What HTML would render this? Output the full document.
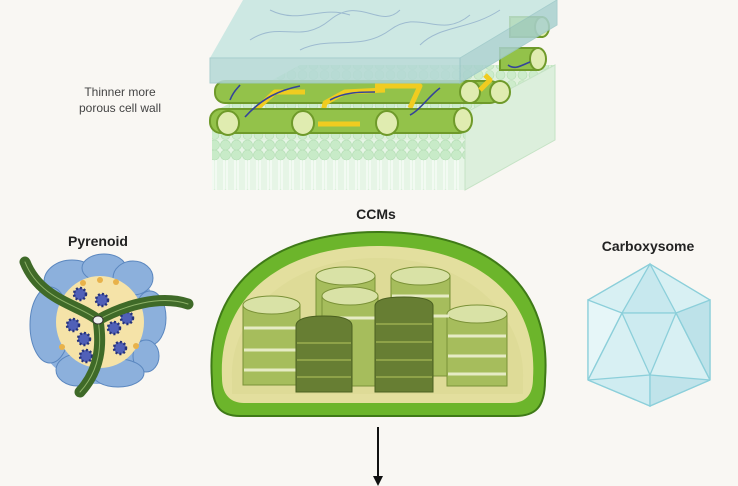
<!DOCTYPE html>
<html><head><meta charset="utf-8"><style>
html,body{margin:0;padding:0;background:#f9f7f3;}
svg{display:block}
</style></head><body>
<svg width="738" height="486" viewBox="0 0 738 486" xmlns="http://www.w3.org/2000/svg">
<rect width="738" height="486" fill="#f9f7f3"/>
<defs>
<pattern id="mem" width="11" height="50" patternUnits="userSpaceOnUse">
<rect width="11" height="50" fill="#e6f5e6"/>
<circle cx="5.5" cy="5" r="5" fill="#c8ebc8" stroke="#b0dcb0" stroke-width="0.6"/>
<circle cx="5.5" cy="45" r="5" fill="#c8ebc8" stroke="#b0dcb0" stroke-width="0.6"/>
<line x1="4" y1="10" x2="4" y2="40" stroke="#fff" stroke-width="1"/>
<line x1="7" y1="10" x2="7" y2="40" stroke="#fff" stroke-width="1"/>
</pattern>
<pattern id="memtop" width="11" height="10" patternUnits="userSpaceOnUse">
<rect width="11" height="10" fill="#dff1dc"/>
<circle cx="5.5" cy="5" r="4.5" fill="#cdeccb" stroke="#b5ddb2" stroke-width="0.6"/>
</pattern>
</defs>
<!-- membrane -->
<polygon points="212,113 300,65 555,65 555,140 465,190 212,190" fill="#e4f3e4"/>
<polygon points="212,113 300,65 555,65 465,113" fill="url(#memtop)"/>
<rect x="212" y="140" width="253" height="50" fill="url(#mem)"/>
<polygon points="465,113 555,65 555,140 465,190" fill="#dcefdc" stroke="#c5e3c5"/>
<rect x="212" y="113" width="253" height="27" fill="url(#memtop)"/>
<!-- back cylinders -->
<g stroke="#6f9a2a" stroke-width="2" fill="#93c24a">
<rect x="510" y="17" width="32" height="20"/><ellipse cx="542" cy="27" rx="7" ry="10" fill="#e0ecb0"/>
<rect x="500" y="48" width="38" height="22"/><ellipse cx="538" cy="59" rx="8" ry="11" fill="#e0ecb0"/>
<rect x="215" y="81" width="285" height="22" rx="10"/>
<ellipse cx="470" cy="92" rx="10" ry="11" fill="#e0ecb0"/>
<ellipse cx="500" cy="92" rx="10" ry="11" fill="#e0ecb0"/>
</g>
<g stroke="#f0cc20" stroke-width="5" fill="none" stroke-linejoin="round">
<path d="M250,115 L275,92 L305,92"/>
<path d="M320,125 L325,103 L345,92 L385,90"/>
<path d="M375,86 L420,86 L410,108"/>
<path d="M485,75 L490,80 L480,90"/>
</g>
<!-- front cylinders -->
<g stroke="#6f9a2a" stroke-width="2" fill="#93c24a">
<rect x="210" y="109" width="260" height="24" rx="11"/>
<ellipse cx="228" cy="123" rx="11" ry="12" fill="#e0ecb0"/>
<ellipse cx="303" cy="123" rx="11" ry="12" fill="#e0ecb0"/>
<ellipse cx="387" cy="123" rx="11" ry="12" fill="#e0ecb0"/>
<ellipse cx="463" cy="120" rx="9" ry="12" fill="#e0ecb0"/>
</g>
<g stroke="#f0cc20" stroke-width="5" fill="none">
<path d="M318,124 L360,124"/>
</g>
<g stroke="#34449a" stroke-width="1.6" fill="none">
<path d="M245,117 C262,98 280,90 300,86"/>
<path d="M330,100 C345,92 360,92 375,92"/>
<path d="M410,115 C420,110 430,95 440,88"/>
<path d="M230,100 C234,90 238,88 240,85"/>
<path d="M508,65 C515,70 520,66 530,62"/>
</g>
<!-- glass slab -->
<polygon points="243,0 557,0 460,58 210,58" fill="#c2e3df" opacity="0.8"/>
<polygon points="210,58 460,58 460,83 210,83" fill="#b4d9d6" opacity="0.85" stroke="#9cc8c8"/>
<polygon points="460,58 557,0 557,25 460,83" fill="#a9d1cf" opacity="0.85" stroke="#9cc8c8"/>
<g stroke="#8aa8c8" stroke-width="1" fill="none" opacity="0.7">
<path d="M250,40 C280,20 300,45 330,20 S380,30 400,10"/>
<path d="M300,50 C330,35 360,52 390,30 S440,40 470,15"/>
<path d="M420,45 C440,25 470,30 500,10"/>
<path d="M270,10 C300,25 320,5 350,15"/>
</g>
<text x="120" y="96" font-family="Liberation Sans, sans-serif" font-size="12" fill="#444" text-anchor="middle">Thinner more</text>
<text x="120" y="112" font-family="Liberation Sans, sans-serif" font-size="12" fill="#444" text-anchor="middle">porous cell wall</text>
<text x="376" y="219" font-family="Liberation Sans, sans-serif" font-size="14" font-weight="bold" fill="#222" text-anchor="middle">CCMs</text>
<text x="98" y="246" font-family="Liberation Sans, sans-serif" font-size="14" font-weight="bold" fill="#222" text-anchor="middle">Pyrenoid</text>
<text x="648" y="251" font-family="Liberation Sans, sans-serif" font-size="14" font-weight="bold" fill="#222" text-anchor="middle">Carboxysome</text>
<!-- chloroplast -->
<path d="M212,380 C205,290 265,232 378,232 C495,232 552,290 545,380 C545,408 535,416 515,416 L240,416 C220,416 212,406 212,380 Z" fill="#6cb52b" stroke="#3f7a17" stroke-width="2"/>
<path d="M222,378 C218,300 278,246 378,246 C482,246 538,300 533,378 C533,396 525,403 510,403 L244,403 C230,403 222,394 222,378 Z" fill="#e3df9e"/>
<path d="M232,378 C230,318 285,258 378,258 C470,258 525,318 523,378 L523,394 L232,394 Z" fill="#d9d890" opacity="0.5"/>
<!-- grana -->
<g stroke="#7b9238" stroke-width="1">
<rect x="316" y="276" width="59" height="100" fill="#a6bd5c"/><ellipse cx="345.5" cy="276" rx="29.5" ry="9" fill="#d9e2a6"/>
<rect x="391" y="276" width="59" height="100" fill="#a6bd5c"/><ellipse cx="420.5" cy="276" rx="29.5" ry="9" fill="#d9e2a6"/>
<rect x="322" y="296" width="56" height="90" fill="#a6bd5c"/><ellipse cx="350" cy="296" rx="28" ry="9" fill="#d9e2a6"/>
<rect x="243" y="305" width="57" height="80" fill="#a6bd5c"/><ellipse cx="271.5" cy="305" rx="28.5" ry="9" fill="#d9e2a6"/>
<rect x="447" y="314" width="60" height="72" fill="#a6bd5c"/><ellipse cx="477" cy="314" rx="30" ry="9" fill="#d9e2a6"/>
</g>
<g stroke="#e6ebc4" stroke-width="3">
<line x1="244" y1="328" x2="299" y2="328"/><line x1="244" y1="350" x2="299" y2="350"/><line x1="244" y1="370" x2="299" y2="370"/>
<line x1="448" y1="336" x2="506" y2="336"/><line x1="448" y1="356" x2="506" y2="356"/><line x1="448" y1="374" x2="506" y2="374"/>
<line x1="392" y1="296" x2="449" y2="296"/><line x1="392" y1="316" x2="449" y2="316"/>
<line x1="323" y1="318" x2="377" y2="318"/>
</g>
<g fill="#677e33" stroke="#4b6020" stroke-width="1">
<path d="M296,326 Q296,316 324,316 Q352,316 352,326 L352,392 L296,392 Z"/>
<path d="M375,306 Q375,297 404,297 Q433,297 433,306 L433,392 L375,392 Z"/>
</g>
<g stroke="#8ea248" stroke-width="2">
<line x1="297" y1="343" x2="351" y2="343"/><line x1="297" y1="360" x2="351" y2="360"/><line x1="297" y1="377" x2="351" y2="377"/>
<line x1="376" y1="324" x2="432" y2="324"/><line x1="376" y1="342" x2="432" y2="342"/><line x1="376" y1="360" x2="432" y2="360"/><line x1="376" y1="377" x2="432" y2="377"/>
</g>
<!-- arrow -->
<line x1="378" y1="427" x2="378" y2="480" stroke="#111" stroke-width="2"/>
<polygon points="373,476 383,476 378,486" fill="#111"/>
<!-- pyrenoid -->
<ellipse cx="97" cy="322" rx="62" ry="62" fill="#8cb0dc"/>
<g stroke="#5b87bf" stroke-width="1" fill="#8cb0dc">
<ellipse cx="72" cy="282" rx="28" ry="22"/>
<ellipse cx="104" cy="268" rx="22" ry="14"/>
<ellipse cx="133" cy="278" rx="20" ry="17"/>
<ellipse cx="50" cy="325" rx="20" ry="38"/>
<ellipse cx="150" cy="318" rx="16" ry="27"/>
<ellipse cx="146" cy="356" rx="13" ry="16"/>
<ellipse cx="78" cy="370" rx="22" ry="16"/>
<ellipse cx="118" cy="373" rx="26" ry="14"/>
</g>
<ellipse cx="100" cy="322" rx="44" ry="46" fill="#f5e3a8"/>
<g fill="#5060b8" stroke="#26327a" stroke-width="2.5" stroke-dasharray="2 2">
<circle cx="80" cy="294" r="6"/><circle cx="102" cy="300" r="6"/><circle cx="127" cy="318" r="6"/>
<circle cx="73" cy="325" r="6"/><circle cx="114" cy="328" r="6"/><circle cx="84" cy="339" r="6"/>
<circle cx="120" cy="348" r="6"/><circle cx="86" cy="356" r="6"/>
</g>
<g fill="#e8b24a"><circle cx="83" cy="283" r="3"/><circle cx="100" cy="280" r="3"/><circle cx="116" cy="282" r="3"/><circle cx="62" cy="347" r="3"/><circle cx="136" cy="346" r="3"/></g>
<g fill="none" stroke-linecap="round">
<path d="M25,262 C40,300 80,305 98,320 M98,320 C125,305 160,295 188,304 M98,320 C102,345 100,370 80,392" stroke="#3f6a28" stroke-width="11"/>
<path d="M25,262 C40,300 80,305 98,320 M98,320 C125,305 160,295 188,304 M98,320 C102,345 100,370 80,392" stroke="#8fb36a" stroke-width="1"/>
</g>
<ellipse cx="98" cy="320" rx="5" ry="4" fill="#eee" stroke="#333"/>
<!-- carboxysome -->
<g stroke="#8ccfda" stroke-width="1.3" fill="#d8f0f3">
<polygon points="650,264 710,300 710,380 650,406 588,380 588,300"/>
<polygon points="650,264 622,313 676,313" fill="#c7e8ee"/>
<polygon points="588,300 622,313 588,380" fill="#e6f6f8"/>
<polygon points="710,300 676,313 710,380" fill="#bde2e9"/>
<polygon points="622,313 676,313 650,375" fill="#cdebf0"/>
<polygon points="588,380 650,375 650,406" fill="#cfecf1"/>
<polygon points="710,380 650,375 650,406" fill="#c0e3ea"/>
<line x1="622" y1="313" x2="588" y2="380"/><line x1="676" y1="313" x2="710" y2="380"/>
<line x1="650" y1="264" x2="588" y2="300"/><line x1="650" y1="264" x2="710" y2="300"/>
</g>
</svg>
</body></html>
